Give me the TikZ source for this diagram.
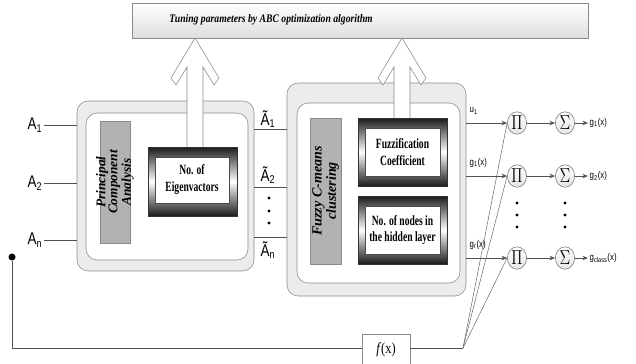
\documentclass[tikz,border=0pt]{standalone}
\usepackage{fontspec}
\setmainfont{Liberation Serif}
\setsansfont{Liberation Sans}
\usetikzlibrary{positioning,calc,arrows.meta,fit,shapes.geometric}
\definecolor{edge}{HTML}{8A8A8A}
\definecolor{panel}{HTML}{ECECEC}
\definecolor{barfill}{HTML}{B2B2B2}
\definecolor{wire}{HTML}{505050}
\newcommand{\sqz}[2][0.68]{\scalebox{#1}[1]{#2}}
\newcommand{\boxfont}{\bfseries\fontsize{10}{12}\selectfont}
\newcommand{\sidefont}{\bfseries\itshape\fontsize{9.5}{8.5}\selectfont}
\newcommand{\lblfont}{\sffamily\fontsize{7}{8}\selectfont}
\newcommand{\infont}{\sffamily\fontsize{12}{14}\selectfont}
\tikzset{
  outerbox/.style={draw=edge, fill=panel, rounded corners=8pt, inner sep=0pt},
  innerbox/.style={draw=edge, fill=white, rounded corners=8pt, inner sep=0pt},
  greybar/.style={draw=edge, fill=barfill, inner sep=0pt},
  darkframe/.style={draw=black!80, top color=black!90, bottom color=black!90, middle color=white, inner sep=0pt},
  whitecard/.style={draw=black!70, fill=white, inner sep=0pt, align=center, font=\boxfont},
  hollow/.style={draw=edge, fill=white, line join=miter},
  op/.style={ellipse, draw=black!55, top color=white, bottom color=black!10, minimum width=0.48cm, minimum height=0.56cm, inner sep=0pt, font=\fontsize{15}{15}\selectfont},
  lbl/.style={inner sep=1pt, font=\lblfont},
  wires/.style={draw=wire, line width=0.7pt},
  fanline/.style={draw=black!60, line width=0.35pt},
  arr/.style={wires, -{Stealth[length=4pt,width=3.2pt]}},
}
% up arrow from bar to a box, tip at #1,#2 and shaft down to #3
\newcommand{\hollowup}[3]{%
  \draw[hollow] (#1,#2) -- ++(24,40) -- ++(-5,7) -- ++(-11,-18) -- (#1+8,#3)
    -- (#1-8,#3) -- (#1-8,#2+29) -- ++(-11,18) -- ++(-5,-7) -- cycle;}

\begin{document}
\begin{tikzpicture}[x=0.025cm, y=-0.025cm]
	\useasboundingbox (0,0) rectangle (636,363);

	% optimiser on top
	\node (abc) [draw=edge, top color=white, bottom color=black!13, inner sep=0pt, fit={(132,3) (588,38)}] {};
	\node (abctext) at (271,20) {\sqz[0.84]{\bfseries\itshape\fontsize{8.2}{9}\selectfont Tuning parameters by ABC optimization algorithm}};

	% PCA block
	\node (lbox) [outerbox, fit={(77,101) (254,271)}] {};
	\node (lin) [innerbox, fit={(86,113) (248,260)}] {};
	\node (rbox) [outerbox, fit={(287,83) (466,296)}] {};
	\node (rin) [innerbox, fit={(297,103) (460,283)}] {};

	\hollowup{195}{38}{150}
	\hollowup{402}{38}{121}

	\node (pca) [greybar, fit={(100,121) (130,243)}] {};
	\node [rotate=90, align=center, font=\sidefont] at (pca.center) {Principal\\Component\\Analysis};
	\node (eigframe) [darkframe, fit={(148,147) (237,216)}] {};
	\node (eig) [whitecard, fit={(155,157) (229,203)}] {};
	\node at (eig.center) [align=center, font=\boxfont] {\sqz{No. of}\\\sqz{Eigenvactors}};

	% FCM block
	\node (fcm) [greybar, fit={(310,118) (341,264)}] {};
	\node [rotate=90, align=center, font=\bfseries\itshape\fontsize{10}{9}\selectfont] at (fcm.center) {Fuzzy C-means\\clustering};
	\node (fuzframe) [darkframe, fit={(358,118) (447,186)}] {};
	\node (fuz) [whitecard, fit={(365,128) (440,176)}] {};
	\node at (fuz.center) [align=center, font=\boxfont] {\sqz{Fuzzification}\\\sqz{Coefficient}};
	\node (hidframe) [darkframe, fit={(358,196) (447,264)}] {};
	\node (hid) [whitecard, fit={(365,206) (440,254)}] {};
	\node at (hid.center) [align=center, font=\boxfont] {\sqz{No. of nodes in}\\\sqz{the hidden layer}};

	% inputs
	\coordinate (in1) at (44,125);
	\coordinate (in2) at (44,183);
	\coordinate (inn) at (44,240);
	\node (a1) [left=0pt of in1, font=\infont, inner sep=1pt] {\sqz[0.8]{A\textsubscript{1}}};
	\node (a2) [left=0pt of in2, font=\infont, inner sep=1pt] {\sqz[0.8]{A\textsubscript{2}}};
	\node (an) [left=0pt of inn, font=\infont, inner sep=1pt] {\sqz[0.8]{A\textsubscript{n}}};
	\draw[wires] (in1) -- (in1 -| lbox.west);
	\draw[wires] (in2) -- (in2 -| lbox.west);
	\draw[wires] (inn) -- (inn -| lbox.west);

	% reduced features
	\coordinate (t1) at (254,129);
	\coordinate (t2) at (254,187);
	\coordinate (tn) at (254,237);
	\draw[wires] (t1) -- (t1 -| rbox.west);
	\draw[wires] (t2) -- (t2 -| rbox.west);
	\draw[wires] (tn) -- (tn -| rbox.west);
	\node (at1) at (268,119) [font=\infont, inner sep=0pt] {\sqz[0.8]{Ã\textsubscript{1}}};
	\node (at2) at (268,175) [font=\infont, inner sep=0pt] {\sqz[0.8]{Ã\textsubscript{2}}};
	\node (atn) at (268,250) [font=\infont, inner sep=0pt] {\sqz[0.8]{Ã\textsubscript{n}}};
	\foreach \y in {198,211,223}
		\fill (269,\y) circle (1.6);

	% product and sum layer
	\node (p1) [op] at (517,123) {\sqz[0.75]{$\Pi$}};
	\node (p2) [op] at (517,176) {\sqz[0.75]{$\Pi$}};
	\node (pn) [op] at (517,258) {\sqz[0.75]{$\Pi$}};
	\node (s1) [op] at (565,123) {\sqz[0.75]{$\Sigma$}};
	\node (s2) [op] at (565,176) {\sqz[0.75]{$\Sigma$}};
	\node (sn) [op] at (565,258) {\sqz[0.75]{$\Sigma$}};
	\foreach \y in {203,215,227} {
		\fill (517,\y) circle (1.6);
		\fill (565,\y) circle (1.6);
	}
	\draw[arr] (rbox.east |- p1) -- (p1);
	\draw[arr] (rbox.east |- p2) -- (p2);
	\draw[arr] (rbox.east |- pn) -- (pn);
	\node (u1) [lbl, anchor=south west] at (468,116) {\sqz[0.8]{u\textsubscript{1}}};
	\node (gr1) [lbl, anchor=south west] at (468,169) {\sqz[0.8]{g\textsubscript{1}(x)}};
	\node (grn) [lbl, anchor=south west] at (468,251) {\sqz[0.8]{g\textsubscript{r}(x)}};
	\draw[arr] (p1) -- (s1);
	\draw[arr] (p2) -- (s2);
	\draw[arr] (pn) -- (sn);
	\node (g1) [lbl, anchor=west] at (588,123) {\sqz[0.8]{g\textsubscript{1}(x)}};
	\node (g2) [lbl, anchor=west] at (588,176) {\sqz[0.8]{g\textsubscript{2}(x)}};
	\node (gc) [lbl, anchor=west] at (588,258) {\sqz[0.8]{g\textsubscript{class}(x)}};
	\draw[arr] (s1) -- (g1);
	\draw[arr] (s2) -- (g2);
	\draw[arr] (sn) -- (gc);

	% feedback of the raw input
	\node (src) [circle, fill=black, inner sep=0pt, minimum size=5pt] at (12,257) {};
	\node (fx) [draw=edge, fill=white, minimum width=1.2cm, minimum height=0.8cm, font=\fontsize{11}{12}\selectfont] at (386,350) {\sqz[0.8]{\textit{f}(x)}};
	\coordinate (fan) at (463,348);
	\draw[wires] (src) |- (fx.west |- fan);
	\draw[wires] (fx.east |- fan) -- (fan);
	\draw[fanline] (fan) -- (p1.west);
	\draw[fanline] (fan) -- (p2.west);
	\draw[fanline] (fan) -- (pn.west);
\end{tikzpicture}
\end{document}
